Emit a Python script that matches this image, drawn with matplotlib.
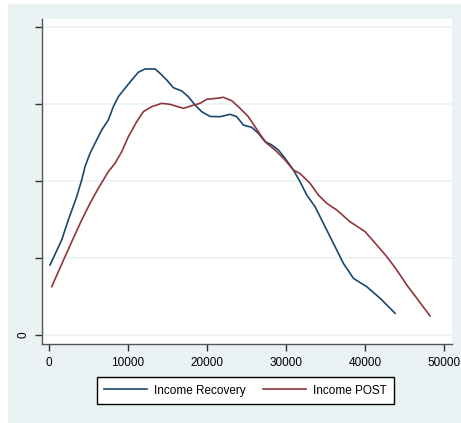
import matplotlib
matplotlib.use("Agg")
import matplotlib.pyplot as plt
from matplotlib.patches import Rectangle

# Kernel density estimates (y in units of one tick step)
recovery_x = [127, 1608, 2443, 3506, 4139, 4557, 5190, 5823, 6671, 7506, 8139, 8772,
              9620, 10468, 11304, 12152, 13418, 14051, 14899, 15734, 16797, 17633,
              18481, 19329, 20380, 21646, 22911, 23759, 24595, 25658, 26494, 27342,
              28190, 29025, 29873, 30924, 31772, 32620, 33670, 34937, 35987, 37253,
              38519, 40215, 41899, 43797]
recovery_y = [0.909, 1.234, 1.494, 1.796, 2.013, 2.186, 2.360, 2.490, 2.662, 2.792, 2.965,
              3.095, 3.204, 3.312, 3.412, 3.455, 3.455, 3.399, 3.312, 3.212, 3.169, 3.095,
              2.987, 2.900, 2.838, 2.835, 2.866, 2.835, 2.727, 2.697, 2.619, 2.510, 2.468,
              2.403, 2.295, 2.143, 1.991, 1.818, 1.666, 1.406, 1.191, 0.931, 0.736, 0.627,
              0.477, 0.282]

post_x = [342, 2025, 3076, 4139, 5190, 6241, 7506, 8354, 9202, 10038, 11101, 11937,
          13000, 14266, 15316, 17000, 18063, 19114, 19962, 21228, 22063, 23126, 24177,
          25228, 26076, 26924, 27557, 28608, 29873, 30924, 31772, 33038, 34089, 35152,
          36418, 38101, 40000, 41481, 42747, 44013, 45278, 46544, 48228]
post_y = [0.627, 1.017, 1.256, 1.494, 1.710, 1.905, 2.121, 2.230, 2.381, 2.575, 2.770,
          2.900, 2.965, 3.009, 2.996, 2.944, 2.978, 3.009, 3.061, 3.074, 3.087, 3.043,
          2.944, 2.835, 2.705, 2.575, 2.490, 2.403, 2.273, 2.143, 2.097, 1.970, 1.818,
          1.710, 1.623, 1.471, 1.342, 1.169, 1.017, 0.844, 0.649, 0.477, 0.247]

x_ticks = [0, 10000, 20000, 30000, 40000, 50000]
y_ticks = [0, 1, 2, 3, 4]
y_tick_labels = ["0", "", "", "", ""]

W, H = 461, 423
bg = "#eaf2f3"
plt.rcParams["font.family"] = ["Liberation Sans", "DejaVu Sans"]

fig = plt.figure(figsize=(W / 100, H / 100), dpi=100, facecolor="white")
fig.patches.append(Rectangle((8 / W, 0), 1 - 8 / W, (H - 4) / H,
                             transform=fig.transFigure, facecolor=bg,
                             edgecolor="none", zorder=-10))

ax = fig.add_axes([42 / W, (H - 344) / H, (452 - 42) / W, (344 - 19) / H])
ax.set_facecolor("white")

ax.plot(recovery_x, recovery_y, color="#1a476f", lw=1.2, label="Income Recovery",
        solid_joinstyle="round")
ax.plot(post_x, post_y, color="#90353b", lw=1.2, label="Income POST",
        solid_joinstyle="round")

ax.set_xlim(-886, 51000)
ax.set_ylim(-0.117, 4.104)
ax.set_xticks(x_ticks)
ax.set_xticklabels([str(v) for v in x_ticks], fontsize=8.5)
ax.set_yticks(y_ticks)
ax.set_yticklabels(y_tick_labels, fontsize=8.5, rotation=90, va="center")

ax.grid(axis="y", color=bg, lw=1.2)
ax.set_axisbelow(True)
for side in ["top", "right"]:
    ax.spines[side].set_visible(False)
for side in ["left", "bottom"]:
    ax.spines[side].set_color("#555555")
    ax.spines[side].set_linewidth(1.0)
ax.tick_params(direction="out", length=5, width=1, color="#333333", pad=4)

fig.legend(loc="center", bbox_to_anchor=(245.5 / W, 32.5 / H), ncol=2, fontsize=8.5,
           frameon=True, fancybox=False, edgecolor="black", framealpha=1,
           handlelength=3.6, handletextpad=0.6, columnspacing=1.5, borderpad=0.6)

fig.savefig("out.png", dpi=100, facecolor="white")
